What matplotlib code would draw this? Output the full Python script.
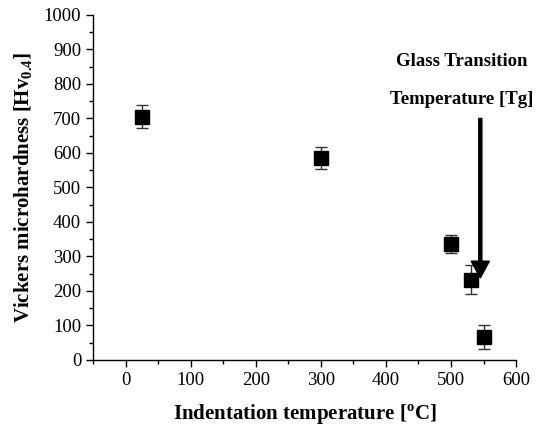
import numpy as np
import matplotlib.pyplot as plt
from matplotlib.ticker import MultipleLocator

# indentation temperature [C] and Vickers microhardness
temperature = [25, 300, 500, 530, 550]
hardness = [705, 585, 335, 232, 66]
hardness_err = [33, 32, 26, 42, 35]

plt.rcParams['font.family'] = ['Liberation Serif', 'DejaVu Serif']
plt.rcParams['mathtext.fontset'] = 'custom'
plt.rcParams['mathtext.rm'] = 'Liberation Serif'
plt.rcParams['mathtext.bf'] = 'Liberation Serif:bold'

fig = plt.figure(figsize=(5.41, 4.26), dpi=100)
ax = fig.add_axes([0.172, 0.155, 0.782, 0.81])

ax.errorbar(temperature, hardness, yerr=hardness_err, fmt='s', color='black',
            markersize=10, ecolor='#333333', elinewidth=1, capsize=4, capthick=1)

# arrow marking the glass transition
ax.annotate('', xy=(545, 238), xytext=(545, 700),
            arrowprops=dict(width=2.2, headwidth=13, headlength=12,
                            facecolor='black', edgecolor='black',
                            shrink=0))
ax.text(517, 864, 'Glass Transition', ha='center', va='center',
        fontsize=13.5, fontweight='bold')
ax.text(517, 754, 'Temperature [Tg]', ha='center', va='center',
        fontsize=13.5, fontweight='bold')

ax.set_xlim(-50, 600)
ax.set_ylim(0, 1000)
ax.xaxis.set_major_locator(MultipleLocator(100))
ax.xaxis.set_minor_locator(MultipleLocator(50))
ax.yaxis.set_major_locator(MultipleLocator(100))
ax.yaxis.set_minor_locator(MultipleLocator(50))
ax.tick_params(which='major', direction='out', length=5, width=1, labelsize=13.5)
ax.tick_params(which='minor', direction='out', length=3, width=1)
for s in ['top', 'right']:
    ax.spines[s].set_visible(False)
for s in ['left', 'bottom']:
    ax.spines[s].set_linewidth(1)

ax.set_xlabel(r'Indentation temperature [$^{\mathbf{o}}$C]', fontsize=15,
              fontweight='bold', labelpad=10)
ax.set_ylabel(r'Vickers microhardness [Hv$_{\mathbf{0.4}}$]', fontsize=15,
              fontweight='bold', labelpad=6)

fig.savefig('out.png', dpi=100)
